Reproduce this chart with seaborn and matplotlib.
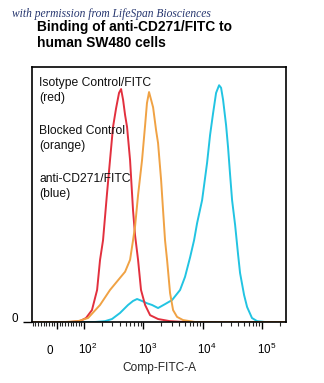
import numpy as np
import pandas as pd
import matplotlib
matplotlib.use("Agg")
import matplotlib.pyplot as plt
import matplotlib.transforms as mtransforms
import seaborn as sns

# Histogram traces: fluorescence intensity (Comp-FITC-A) and event count
red_x = [-93, 48, 85, 108, 136, 166, 186, 209, 244, 274, 308, 347, 389, 421, 455, 492,
         531, 597, 670, 724, 814, 913, 1070, 1300, 1770, 2800, 5000, 254000]
red_y = [0, 0, 1, 4.7, 14, 37.6, 72.8, 96, 151, 190, 229, 251, 269, 273.5, 261, 243,
         229, 190, 131, 102, 73, 37.6, 20, 8, 3.5, 1, 0, 0]

orange_x = [-93, 30, 78, 117, 186, 274, 374, 492, 597, 670, 724, 814, 950, 1070, 1150,
            1247, 1350, 1460, 1640, 1770, 1990, 2150, 2320, 2510, 2820, 3170, 3700,
            4660, 7400, 254000]
orange_y = [0, 0, 1, 4.7, 20, 37.6, 49, 59, 73, 96, 112, 149, 190, 231, 257,
            270, 261, 252, 225, 210, 167, 131, 96, 73, 34, 14, 6,
            2.3, 0, 0]

blue_x = [-93, 153, 226, 296, 404, 552, 670, 783, 950, 1150, 1400, 1770, 2320, 3050,
          4160, 5040, 6140, 7160, 8050, 9780, 11870, 13330, 14970, 16830, 18920,
          20430, 22070, 24820, 26800, 28990, 31330, 35220, 39560, 42700, 49900,
          56100, 67800, 82700, 112000, 254000]
blue_y = [0, 0, 1, 3.5, 10.6, 20, 24.7, 27, 24.7, 22, 20, 16.4, 21, 25.8,
          37.6, 53, 76, 96, 116, 143, 187, 219.6, 245, 269, 278,
          275, 261, 231, 205, 173, 143, 114, 79, 57.5, 31.7,
          17.6, 4.7, 1, 0, 0]

series_names = ["anti-CD271/FITC", "Isotype Control/FITC", "Blocked Control"]
series_colors = ["#22c4e2", "#e2303e", "#f0a244"]

legend_lines = ["Isotype Control/FITC", "(red)", "Blocked Control", "(orange)",
                "anti-CD271/FITC", "(blue)"]

major_ticks = [0, 1e2, 1e3, 1e4, 1e5]
major_labels = ["0", "$10^2$", "$10^3$", "$10^4$", "$10^5$"]

title_lines = ["Binding of anti-CD271/FITC to", "human SW480 cells"]
credit = "with permission from LifeSpan Biosciences"
xlabel = "Comp-FITC-A"

df = pd.concat([
    pd.DataFrame({"FITC": blue_x, "Count": blue_y, "sample": series_names[0]}),
    pd.DataFrame({"FITC": red_x, "Count": red_y, "sample": series_names[1]}),
    pd.DataFrame({"FITC": orange_x, "Count": orange_y, "sample": series_names[2]}),
])

sns.set_style("white")
plt.rcParams["font.family"] = ["Liberation Sans", "DejaVu Sans"]
plt.rcParams["mathtext.fontset"] = "custom"
plt.rcParams["mathtext.rm"] = "Liberation Sans"
plt.rcParams["mathtext.it"] = "Liberation Sans"

W, H = 324, 383
fig = plt.figure(figsize=(W / 100, H / 100), dpi=100)
ax = fig.add_axes([32 / W, (H - 322) / H, 254 / W, 255.5 / H])

sns.lineplot(data=df, x="FITC", y="Count", hue="sample", hue_order=series_names,
             palette=dict(zip(series_names, series_colors)), estimator=None,
             linewidth=1.4, legend=False, ax=ax)

# biexponential-like display: linear below 100, log above
ax.set_xscale("symlog", linthresh=100, linscale=0.41)
ax.set_xlim(-92.6, 2.54e5)
ax.set_ylim(0, 300)

for s in ax.spines.values():
    s.set_visible(True)
    s.set_color("black")
    s.set_linewidth(1.2)

ax.set_xticks(major_ticks)
ax.set_xticklabels(major_labels)
minor = [v for v in range(-90, 100, 10) if v != 0]
minor += [m * 10 ** k for k in range(2, 6) for m in range(2, 10) if m * 10 ** k < 2.54e5]
ax.set_xticks(minor, minor=True)
ax.tick_params(axis="x", which="major", direction="out", length=5.2, width=1.0,
               bottom=True, pad=18, labelsize=8.4, colors="black")
ax.tick_params(axis="x", which="minor", direction="out", length=2.6, width=0.8,
               bottom=True)
ax.tick_params(axis="x", which="both", top=False)

label_dx = [-7, 4, 4.5, 4, 4.5]
for lab, dx in zip(ax.get_xticklabels(), label_dx):
    lab.set_verticalalignment("baseline")
    lab.set_transform(lab.get_transform() +
                      mtransforms.ScaledTranslation(dx / 100, 0, fig.dpi_scale_trans))

ax.set_yticks([0])
ax.set_yticklabels(["0"])
ax.tick_params(axis="y", which="major", direction="out", length=6.5, width=1.0,
               left=True, pad=3.5, labelsize=8.4, colors="black")
for lab in ax.get_yticklabels():
    lab.set_transform(lab.get_transform() +
                      mtransforms.ScaledTranslation(0, 5 / 100, fig.dpi_scale_trans))

ax.set_xlabel(xlabel, fontsize=8.6, labelpad=0)
ax.xaxis.set_label_coords(0.5, -(370.7 - 322) / 255.5)
ax.xaxis.label.set_verticalalignment("baseline")
ax.set_ylabel("")

# annotation lines inside the plot
baselines = [86, 101.5, 133.5, 149, 181.5, 197]
for txt, yb in zip(legend_lines, baselines):
    fig.text(39 / W, 1 - yb / H, txt, fontsize=8.7, va="baseline", ha="left",
             color="#111111")

for txt, yb in zip(title_lines, [31.2, 47.0]):
    fig.text(37 / W, 1 - yb / H, txt, fontsize=9.9, fontweight="bold",
             va="baseline", ha="left", color="black")

fig.text(11.5 / W, 1 - 16.8 / H, credit, fontsize=8.3, style="italic",
         family=["Liberation Serif", "DejaVu Serif"], va="baseline", ha="left",
         color="#25356e")

fig.savefig("out.png", dpi=100)
